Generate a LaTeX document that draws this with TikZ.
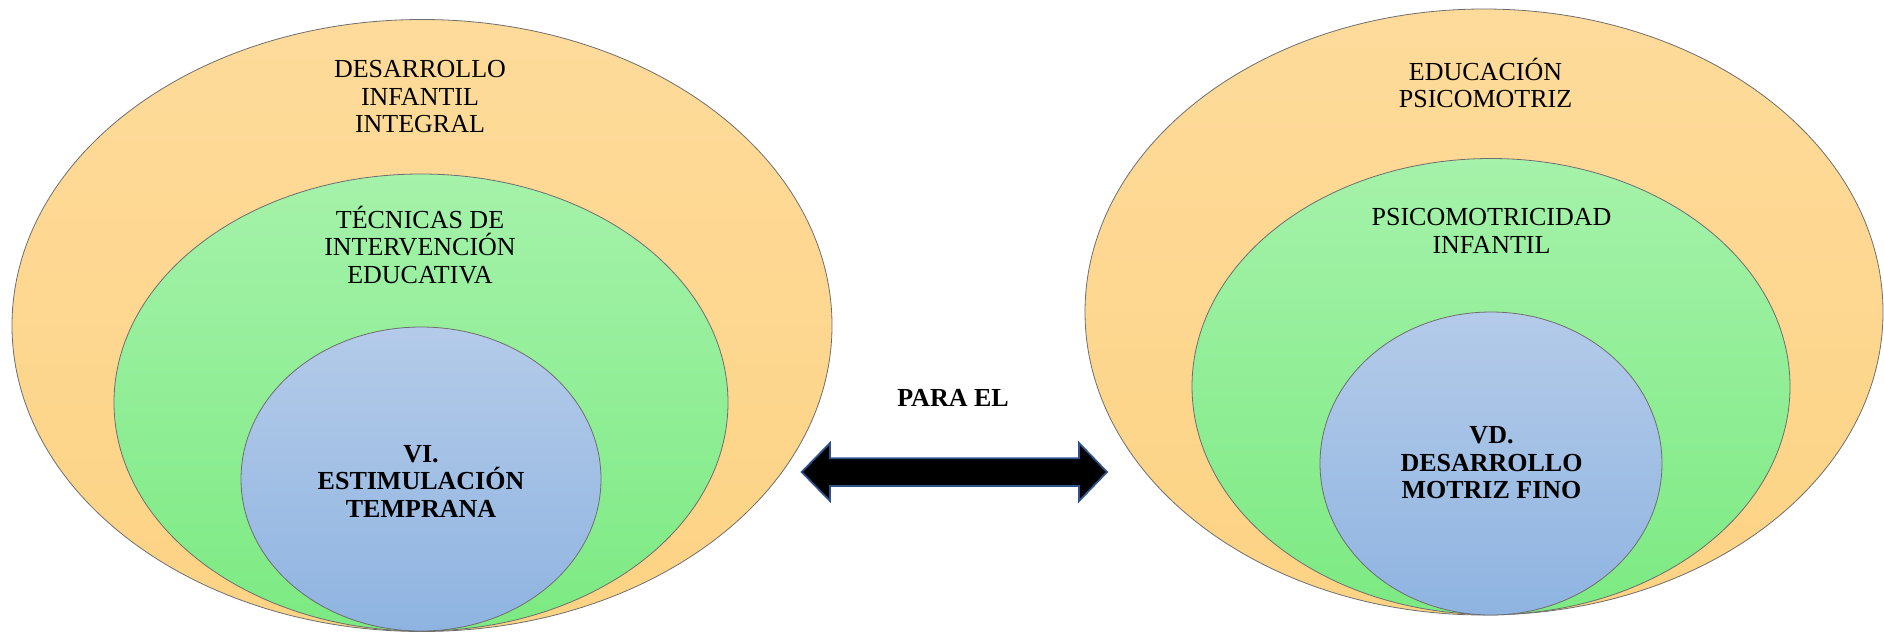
\documentclass[tikz,border=0pt]{standalone}
\usepackage{fontspec}
\setmainfont{Liberation Serif}
\usetikzlibrary{shapes.geometric}
\definecolor{orTop}{RGB}{254,219,155}
\definecolor{orBot}{RGB}{253,211,132}
\definecolor{grTop}{RGB}{165,242,170}
\definecolor{grBot}{RGB}{124,234,130}
\definecolor{blTop}{RGB}{180,203,233}
\definecolor{blBot}{RGB}{143,180,225}
\definecolor{ringLine}{RGB}{110,110,110}
\definecolor{arrLine}{RGB}{47,82,143}
\tikzset{
  ring/.style={ellipse, draw=ringLine, line width=0.8pt, inner sep=0pt},
  outerring/.style={ring, top color=orTop, bottom color=orBot},
  midring/.style={ring, top color=grTop, bottom color=grBot},
  innerring/.style={ring, top color=blTop, bottom color=blBot},
  lbl/.style={align=center, inner sep=0pt, font=\fontsize{26}{27.5}\selectfont},
  blbl/.style={lbl, font=\fontsize{26}{27.5}\selectfont\bfseries},
}
\begin{document}
\begin{tikzpicture}[x=1pt,y=-1pt]
\useasboundingbox (0,0) rectangle (1884,632);
% left set
\node[outerring, minimum width=820pt, minimum height=612pt] (LO) at (422,325.5) {};
\node[midring, minimum width=614pt, minimum height=457pt] (LM) at (421,402.5) {};
\node[innerring, minimum width=360pt, minimum height=304pt] (LI) at (421,479) {};
% right set
\node[outerring, minimum width=798pt, minimum height=606pt] (RO) at (1484,312) {};
\node[midring, minimum width=598pt, minimum height=456pt] (RM) at (1491,386.5) {};
\node[innerring, minimum width=342pt, minimum height=303pt] (RI) at (1491,463.5) {};
% labels
\node[lbl] (tLO) at (420,97) {DESARROLLO\\INFANTIL\\INTEGRAL};
\node[lbl] (tLM) at (420,245) {TÉCNICAS DE\\INTERVENCIÓN\\EDUCATIVA};
\node[blbl] (tLI) at (421,481) {VI.\\ESTIMULACIÓN\\TEMPRANA};
\node[lbl] (tRO) at (1485.5,83) {EDUCACIÓN\\PSICOMOTRIZ};
\node[lbl] (tRM) at (1491.5,231) {PSICOMOTRICIDAD\\INFANTIL};
\node[blbl] (tRI) at (1491.5,463) {VD.\\DESARROLLO\\MOTRIZ FINO};
\node[blbl] (para) at (953,398) {PARA EL};
% double arrow
\coordinate (aL) at (801.7,472);
\coordinate (aR) at (1107,472);
\draw[arrLine, line width=1.8pt, fill=black, line join=miter]
  (aL) -- (830,443) -- (830,458.3) -- (1079,458.3) -- (1079,443) -- (aR)
  -- (1079,501) -- (1079,486) -- (830,486) -- (830,501) -- cycle;
\end{tikzpicture}
\end{document}
